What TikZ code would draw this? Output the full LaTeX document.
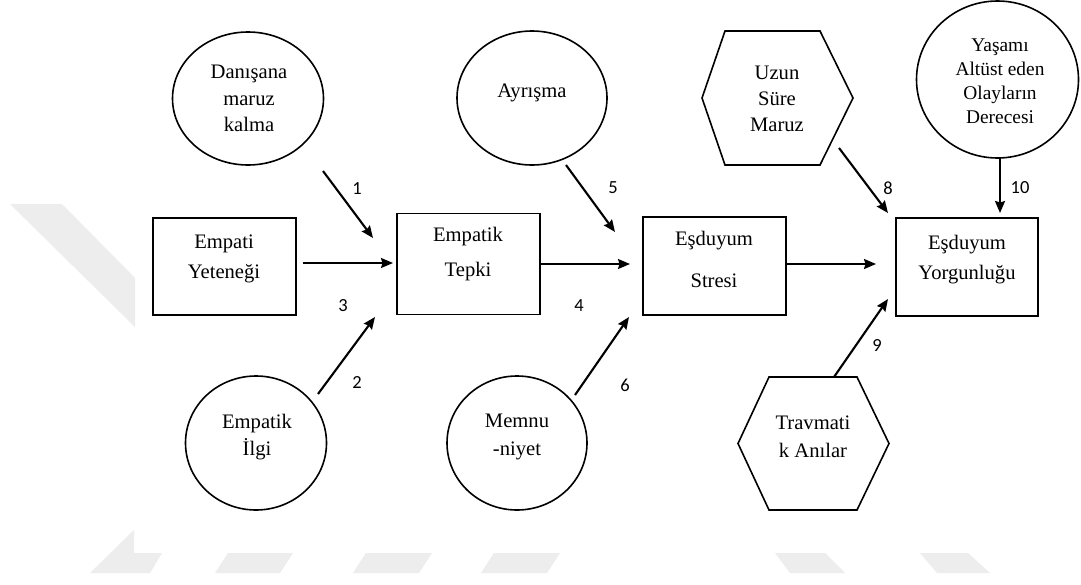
\documentclass[tikz,border=0pt]{standalone}
\usepackage{fontspec}
\setmainfont{Liberation Serif}
\newfontfamily\numfont{Carlito}
\usetikzlibrary{shapes.geometric,arrows.meta}
\definecolor{wm}{HTML}{EDEDED}
\begin{document}
\begin{tikzpicture}[x=1pt,y=-1pt,
  txt/.style={font=\fontsize{20.6}{#1}\selectfont, align=center, inner sep=0pt},
  txt/.default=26.5,
  num/.style={font=\numfont\fontsize{18.5}{20}\selectfont, inner sep=0pt},
  oval/.style={draw, ellipse, line width=1.6pt, inner sep=0pt, outer sep=0pt},
  box/.style={draw, rectangle, line width=1.7pt, inner sep=0pt, outer sep=0pt},
  hexbase/.style={rectangle, inner sep=0pt, outer sep=0pt},
  hexline/.style={line width=1.6pt, line join=miter},
  arr/.style={line width=2.1pt, -{Stealth[length=12pt,width=10pt,inset=1.5pt]}},
  wmark/.style={fill=wm, draw=none}]
\useasboundingbox (0,0) rectangle (1081,584);
\fill[white] (0,0) rectangle (1081,584);
% watermark
\fill[wmark] (10,204) -- (62,204) -- (135,278) -- (135,327) -- cycle;
\fill[wmark] (134,530) -- (134,553) -- (162,553) -- (150,573) -- (90,573) -- cycle;
\fill[wmark] (228,553) -- (293,553) -- (280,573) -- (215,573) -- cycle;
\fill[wmark] (366,553) -- (432,553) -- (419,573) -- (353,573) -- cycle;
\fill[wmark] (494,553) -- (560,553) -- (547,573) -- (481,573) -- cycle;
\fill[wmark] (775,553) -- (825,553) -- (845,573) -- (790,573) -- cycle;
\fill[wmark] (920,553) -- (968,553) -- (990,573) -- (937,573) -- cycle;

% shapes
\node[oval, minimum width=151pt, minimum height=133pt] (danisana) at (248,98.5) {};
\node[oval, minimum width=150pt, minimum height=134pt] (ayrisma) at (532,98) {};
\node[oval, minimum width=141pt, minimum height=134pt] (ilgi) at (256,443) {};
\node[oval, minimum width=140pt, minimum height=134pt] (memnu) at (517,443) {};
\node[oval, minimum width=162pt, minimum height=157pt] (yasami) at (997.5,79.5) {};

\node[box, minimum width=143pt, minimum height=97pt] (yetenek) at (224.5,266.5) {};
\node[box, minimum width=143pt, minimum height=101pt] (tepki) at (468.5,264) {};
\node[box, minimum width=143pt, minimum height=98pt] (stres) at (714.5,266) {};
\node[box, minimum width=142pt, minimum height=98pt] (yorgun) at (967,267) {};

\node[hexbase, minimum width=151pt, minimum height=134pt] (uzun) at (777.5,98) {};
\draw[hexline] (uzun.west) -- ([xshift=23pt]uzun.north west) -- ([xshift=-33pt]uzun.north east)
  -- (uzun.east) -- ([xshift=-33pt]uzun.south east) -- ([xshift=23pt]uzun.south west) -- cycle;
\node[hexbase, minimum width=151pt, minimum height=133pt] (travma) at (813.5,443.5) {};
\draw[hexline] (travma.west) -- ([xshift=31pt]travma.north west) -- ([xshift=-32pt]travma.north east)
  -- (travma.east) -- ([xshift=-32pt]travma.south east) -- ([xshift=31pt]travma.south west) -- cycle;

% texts
\node[txt=26.5] (tdan) at (249,98.5) {Danışana\\maruz\\kalma};
\node[txt] (tayr) at (532,93) {Ayrışma};
\node[txt=27] (tilgi) at (257,437.5) {Empatik\\İlgi};
\node[txt=28] (tmem) at (517,437) {Memnu\\-niyet};
\node[txt=30] (tyet) at (224,259) {Empati\\Yeteneği};
\node[txt=35] (ttep) at (468,254.5) {Empatik\\Tepki};
\node[txt=42] (tstr) at (714,259) {Eşduyum\\Stresi};
\node[txt=30] (tyor) at (967,260) {Eşduyum\\Yorgunluğu};
\node[txt=26] (tuzun) at (777,99) {Uzun\\Süre\\Maruz};
\node[txt=28] (ttra) at (813,437) {Travmati\\k Anılar};
\node[font=\fontsize{19.4}{24}\selectfont, align=center, inner sep=0pt] (tyas) at (1000,81) {Yaşamı\\Altüst eden\\Olayların\\Derecesi};

% connector end points
\coordinate (s1) at (323,171); \coordinate (e1) at (373,238);
\coordinate (s2) at (318,394); \coordinate (e2) at (375,317);
\coordinate (s3) at (303,263); \coordinate (e3) at (393,263);
\coordinate (s4) at (540,264); \coordinate (e4) at (630,264);
\coordinate (s5) at (566,165); \coordinate (e5) at (615,232);
\coordinate (s6) at (575,395); \coordinate (e6) at (629,317);
\coordinate (s7) at (786,264); \coordinate (e7) at (876,264);
\coordinate (s8) at (839,148); \coordinate (e8) at (888,213);
\coordinate (s9) at (834,377); \coordinate (e9) at (888,299);
\coordinate (s10) at (1000,158); \coordinate (e10) at (1000,213);

\draw[arr] (s1) -- (e1);
\draw[arr] (s2) -- (e2);
\draw[arr] (s3) -- (e3);
\draw[arr] (s4) -- (e4);
\draw[arr] (s5) -- (e5);
\draw[arr] (s6) -- (e6);
\draw[arr] (s7) -- (e7);
\draw[arr] (s8) -- (e8);
\draw[arr] (s9) -- (e9);
\draw[arr] (s10) -- (e10);

% numbers
\node[num] (n1) at (357,189) {1};
\node[num] (n2) at (357,382) {2};
\node[num] (n3) at (343,306) {3};
\node[num] (n4) at (579,306) {4};
\node[num] (n5) at (613,188) {5};
\node[num] (n6) at (625,385) {6};
\node[num] (n8) at (888,188) {8};
\node[num] (n9) at (877,345) {9};
\node[num] (n10) at (1020,188) {10};
\end{tikzpicture}
\end{document}
